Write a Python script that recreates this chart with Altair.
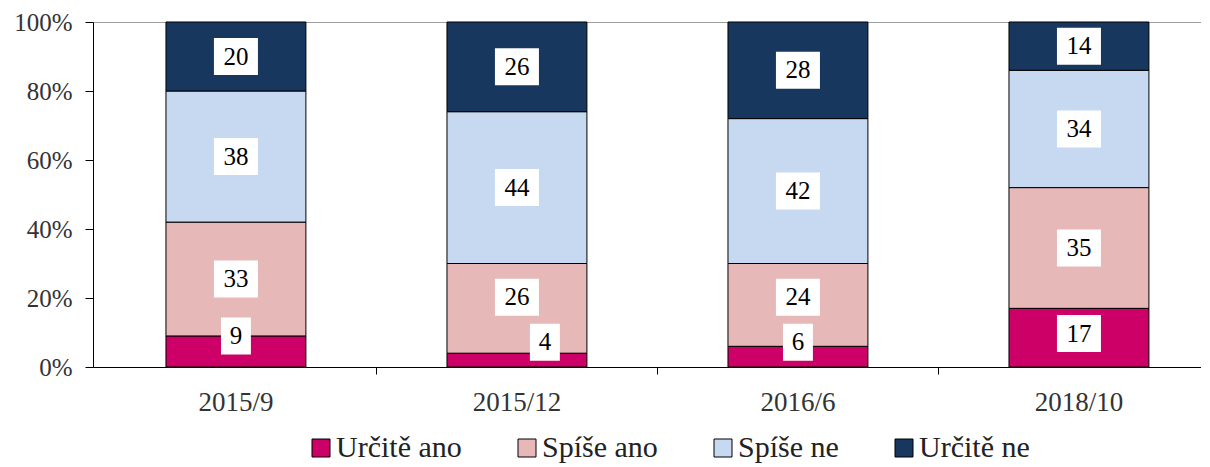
import altair as alt
import pandas as pd

waves = ["2015/9", "2015/12", "2016/6", "2018/10"]
answers = ["Určitě ano", "Spíše ano", "Spíše ne", "Určitě ne"]
urcite_ano = [9, 4, 6, 17]
spise_ano = [33, 26, 24, 35]
spise_ne = [38, 44, 42, 34]
urcite_ne = [20, 26, 28, 14]
colors = ["#CC0066", "#E6B9B8", "#C6D9F1", "#17375E"]
y_ticks = [0, 20, 40, 60, 80, 100]

rows = []
for a_i, (ans, vals) in enumerate(zip(answers, [urcite_ano, spise_ano, spise_ne, urcite_ne])):
    for w, v in zip(waves, vals):
        rows.append({"wave": w, "answer": ans, "idx": a_i, "pct": v})
df = pd.DataFrame(rows)

serif = "Liberation Serif"
x_scale = alt.Scale(paddingInner=0.502, paddingOuter=0.2225, align=0.5835)
y_scale = alt.Scale(domain=[0, 100], nice=False)

x_enc = alt.X(
    "wave:N", sort=waves, scale=x_scale, title=None,
    axis=alt.Axis(labelFont=serif, labelFontSize=27, labelColor="#333333",
                  domainColor="black", tickColor="black", tickSize=7,
                  labelPadding=15, bandPosition=1.504, labelAngle=0, grid=False),
)

base = alt.Chart(df)

bars = base.mark_bar(stroke="black", strokeWidth=1).encode(
    x=x_enc,
    y=alt.Y("pct:Q", stack="zero", scale=y_scale, title=None,
            axis=alt.Axis(values=y_ticks, labelExpr="datum.value + '%'",
                          labelFont=serif, labelFontSize=25, labelColor="#333333",
                          domainColor="black", tickColor="black", tickSize=8,
                          labelPadding=13, grid=True, gridColor="#a0a0a0",
                          gridOpacity=alt.condition("datum.value == 100", alt.value(1), alt.value(0)))),
    color=alt.Color("answer:N", sort=answers,
                    scale=alt.Scale(domain=answers, range=colors),
                    legend=alt.Legend(orient="none", legendX=213, legendY=411,
                                      direction="horizontal", title=None,
                                      labelFont=serif, labelFontSize=30, labelColor="#222222",
                                      symbolType="square", symbolSize=324,
                                      symbolStrokeColor="black", symbolStrokeWidth=1,
                                      labelOffset=0, columnPadding=50, labelLimit=300)),
    order=alt.Order("idx:Q", sort="ascending"),
)

lab = base.transform_window(
    cum="sum(pct)", groupby=["wave"], sort=[alt.SortField("idx")], frame=[None, 0]
).transform_calculate(
    mid="datum.cum - datum.pct / 2",
    low="clamp(datum.cum, 7.2, 9.7)",
).transform_joinaggregate(
    base_low="min(low)", groupby=["wave"]
).transform_calculate(
    lab="datum.idx == 0 ? datum.low : (datum.idx == 1 ? max(datum.mid, datum.base_low + 13) : datum.mid)",
    nudge="datum.idx == 0 && datum.pct < 5 ? 1 : 0",
).transform_calculate(
    boxshape="datum.pct < 10 ? (datum.nudge == 1 ? 'one_r' : 'one') : 'two'",
)

box_one = "M-0.68,-0.84L0.68,-0.84L0.68,0.84L-0.68,0.84Z"
box_one_r = "M0.59,-0.84L1.95,-0.84L1.95,0.84L0.59,0.84Z"
box_two = "M-1,-0.84L1,-0.84L1,0.84L-1,0.84Z"

x_lab = alt.X("wave:N", sort=waves, scale=x_scale)
y_lab = alt.Y("lab:Q", scale=y_scale, stack=None)

boxes = lab.mark_point(filled=True, opacity=1, color="white", strokeWidth=0, size=1936).encode(
    x=x_lab,
    y=y_lab,
    shape=alt.Shape("boxshape:N",
                    scale=alt.Scale(domain=["one", "one_r", "two"], range=[box_one, box_one_r, box_two]),
                    legend=None),
)

texts = lab.transform_filter("datum.nudge == 0").mark_text(
    font=serif, fontSize=25, color="black", baseline="middle").encode(
    x=x_lab, y=y_lab, text="pct:Q",
)

texts_nudged = lab.transform_filter("datum.nudge == 1").mark_text(
    font=serif, fontSize=25, color="black", baseline="middle", dx=28).encode(
    x=x_lab, y=y_lab, text="pct:Q",
)

chart = alt.layer(bars, boxes, texts, texts_nudged).properties(
    width=1108, height=345,
    padding={"left": 85, "top": 14, "right": 0, "bottom": 100},
    autosize=alt.AutoSizeParams(type="none"),
).configure_view(strokeWidth=0)

chart.save("out.html", embed_options={"renderer": "svg", "actions": False})
